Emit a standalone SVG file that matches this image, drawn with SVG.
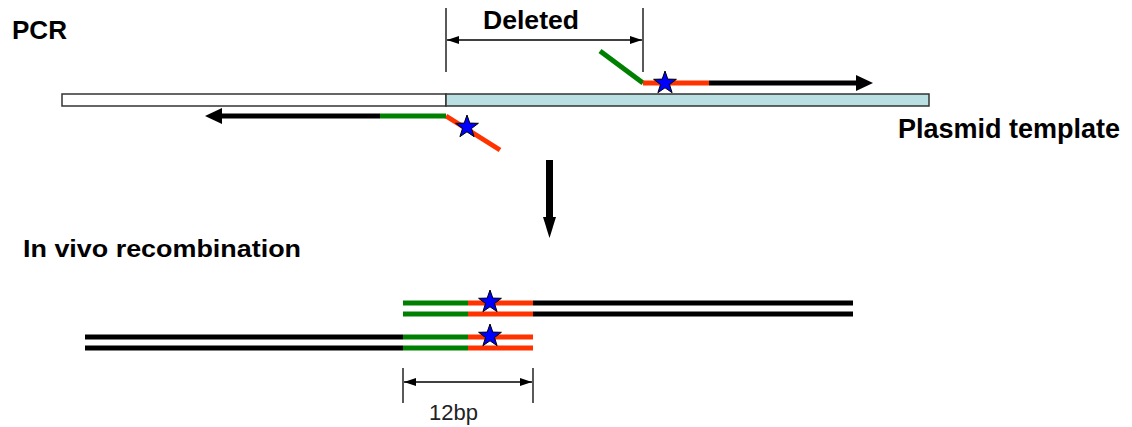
<svg xmlns="http://www.w3.org/2000/svg" width="1132" height="427" viewBox="0 0 1132 427">
  <style>
    .lbl { font-family: "Liberation Sans", Arial, sans-serif; font-weight: bold; fill: #000; }
    .dim { font-family: "Liberation Sans", Arial, sans-serif; font-weight: normal; fill: #222; }
    .g { stroke: #008000; stroke-width: 5; fill: none; }
    .r { stroke: #ff3300; stroke-width: 5; fill: none; }
    .k { stroke: #000; stroke-width: 5; fill: none; }
    .tick { stroke: #000; stroke-width: 1.3; fill: none; }
    .bar { stroke: #333; stroke-width: 1.5; }
  </style>
  <defs>
    <path id="star" d="M0,-12 L2.8,-3.9 L11.4,-3.7 L4.5,1.5 L7.1,9.7 L0,4.8 L-7.1,9.7 L-4.5,1.5 L-11.4,-3.7 L-2.8,-3.9 Z" fill="#0000ff" stroke="#000" stroke-width="1"/>
    <marker id="dimhead" viewBox="0 0 12 10" refX="12" refY="5" markerWidth="12" markerHeight="10" markerUnits="userSpaceOnUse" orient="auto-start-reverse">
      <path d="M0,1 L12,5 L0,9 Z" fill="#000"/>
    </marker>
  </defs>

  <!-- labels -->
  <g id="label-pcr"><text class="lbl" x="12" y="39" font-size="25" textLength="55" lengthAdjust="spacingAndGlyphs">PCR</text></g>
  <g id="label-plasmid"><text class="lbl" x="898" y="138" font-size="27" textLength="222" lengthAdjust="spacingAndGlyphs">Plasmid template</text></g>
  <g id="label-recomb"><text class="lbl" x="23" y="257" font-size="24" textLength="278" lengthAdjust="spacingAndGlyphs">In vivo recombination</text></g>

  <!-- plasmid template bar -->
  <g id="plasmid">
    <rect class="bar" x="62" y="94" width="384" height="12" fill="#ffffff"/>
    <rect class="bar" x="446" y="94" width="483" height="12" fill="#b9dfe2"/>
  </g>

  <!-- forward primer (top) -->
  <g id="primer-forward">
    <line class="g" x1="600" y1="51" x2="643" y2="83"/>
    <line class="r" x1="643" y1="83" x2="709" y2="83"/>
    <line class="k" x1="709" y1="83" x2="858" y2="83"/>
    <path d="M856,75 L873,83 L856,91 Z" fill="#000"/>
    <use href="#star" x="665" y="83"/>
  </g>

  <!-- reverse primer (bottom) -->
  <g id="primer-reverse">
    <line class="r" x1="446" y1="116" x2="500" y2="150"/>
    <line class="g" x1="380" y1="116" x2="446" y2="116"/>
    <line class="k" x1="220" y1="116" x2="380" y2="116"/>
    <path d="M222,108 L205,116 L222,124 Z" fill="#000"/>
    <use href="#star" x="467" y="127"/>
  </g>

  <!-- recombined product, upper duplex -->
  <g id="product-upper">
    <line class="g" x1="403" y1="303" x2="468" y2="303"/>
    <line class="r" x1="468" y1="303" x2="533" y2="303"/>
    <line class="k" x1="533" y1="303" x2="853" y2="303"/>
    <line class="g" x1="403" y1="314" x2="468" y2="314"/>
    <line class="r" x1="468" y1="314" x2="533" y2="314"/>
    <line class="k" x1="533" y1="314" x2="853" y2="314"/>
    <use href="#star" x="490" y="302"/>
  </g>

  <!-- recombined product, lower duplex -->
  <g id="product-lower">
    <line class="k" x1="85" y1="337" x2="403" y2="337"/>
    <line class="g" x1="403" y1="337" x2="468" y2="337"/>
    <line class="r" x1="468" y1="337" x2="533" y2="337"/>
    <line class="k" x1="85" y1="348" x2="403" y2="348"/>
    <line class="g" x1="403" y1="348" x2="468" y2="348"/>
    <line class="r" x1="468" y1="348" x2="533" y2="348"/>
    <use href="#star" x="490" y="336"/>
  </g>

  <!-- connectors: dimension lines and process arrow -->
  <g id="connectors">
    <g id="dim-deleted">
      <line class="tick" x1="446" y1="8" x2="446" y2="72"/>
      <line class="tick" x1="643" y1="8" x2="643" y2="72"/>
      <line class="tick" x1="447" y1="40" x2="642" y2="40" marker-start="url(#dimhead)" marker-end="url(#dimhead)"/>
      <text class="lbl" x="531" y="29" font-size="26" text-anchor="middle" textLength="96" lengthAdjust="spacingAndGlyphs">Deleted</text>
    </g>
    <g id="dim-12bp">
      <line class="tick" x1="403" y1="368" x2="403" y2="403"/>
      <line class="tick" x1="533" y1="368" x2="533" y2="403"/>
      <line class="tick" x1="404" y1="382" x2="532" y2="382" marker-start="url(#dimhead)" marker-end="url(#dimhead)"/>
      <text class="dim" x="429" y="420" font-size="22">12bp</text>
    </g>
    <g id="arrow-down">
      <rect x="546" y="160" width="7" height="60" fill="#000"/>
      <path d="M543,217 L556,217 L549.5,238 Z" fill="#000"/>
    </g>
  </g>
</svg>
